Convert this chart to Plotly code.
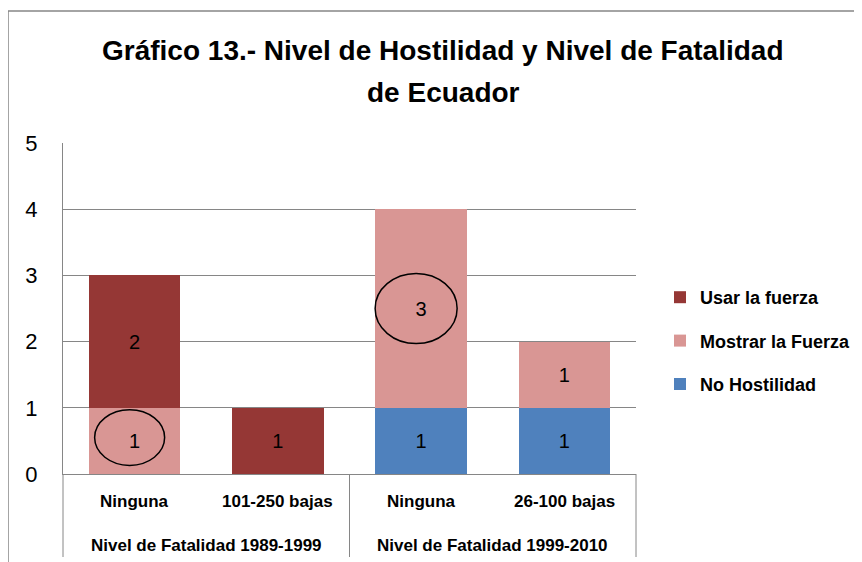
import plotly.graph_objects as go

groups = ["Nivel de Fatalidad 1989-1999", "Nivel de Fatalidad 1999-2010"]
group_of = [0, 0, 1, 1]
categories = ["Ninguna", "101-250 bajas", "Ninguna", "26-100 bajas"]
no_hostilidad = [None, None, 1, 1]
mostrar_fuerza = [1, None, 3, 1]
usar_fuerza = [2, 1, None, None]
y_ticks = [0, 1, 2, 3, 4, 5]

FONT = "Liberation Sans"
OFF = 8  # page body margin offset
W, H = 862, 562
PL, PR, PT, PB = 63 - OFF, 636 - OFF, 143 - OFF, 474 - OFF
PW, PH = PR - PL, PB - PT

def px_x(px):
    return (px - OFF - PL) / PW

def px_y(py):
    return (PB - (py - OFF)) / PH

xpos = list(range(len(categories)))
fig = go.Figure()
series = [("No Hostilidad", no_hostilidad, "#4F81BD", 3),
          ("Mostrar la Fuerza", mostrar_fuerza, "#D99694", 2),
          ("Usar la fuerza", usar_fuerza, "#953735", 1)]
for name, vals, col, rank in series:
    fig.add_trace(go.Bar(
        x=xpos, y=vals, name="<b>%s</b>" % name, marker_color=col,
        legendgroup=name, legendrank=rank,
        marker_line_width=0,
        text=[("" if v is None else str(v)) for v in vals],
        textposition="inside", insidetextanchor="middle",
        textfont=dict(color="black", size=20, family=FONT),
        constraintext="none",
    ))

n = len(categories)
stack = [no_hostilidad, mostrar_fuerza, usar_fuerza]
def stack_mid(i, level):
    base = sum((s[i] or 0) for s in stack[:level])
    return base + (stack[level][i] or 0) / 2

cat_px = PW / n
shapes = []
for i, level, wpx, hy, dx, dy in [(0, 1, 70, 0.42, -5, 0.05), (2, 1, 82, 0.53, -5, 0.0)]:
    cy = stack_mid(i, level) + dy
    cx = i + dx / cat_px
    shapes.append(dict(type="circle", xref="x", yref="y",
                       x0=cx - wpx / 2 / cat_px, x1=cx + wpx / 2 / cat_px,
                       y0=cy - hy, y1=cy + hy,
                       line=dict(color="black", width=1.5)))
GRAY = "#868686"
# outer chart border (top and left)
shapes.append(dict(type="line", xref="paper", yref="paper",
                   x0=px_x(8), x1=px_x(W + 20), y0=px_y(11), y1=px_y(11),
                   line=dict(color=GRAY, width=1.5)))
shapes.append(dict(type="line", xref="paper", yref="paper",
                   x0=px_x(8), x1=px_x(8), y0=px_y(11), y1=px_y(H + 20),
                   line=dict(color=GRAY, width=1.5)))
# category box dividers
for k in range(len(groups) + 1):
    xx = k / len(groups)
    shapes.append(dict(type="line", xref="paper", yref="paper",
                       x0=xx, x1=xx, y0=0, y1=px_y(557),
                       line=dict(color=GRAY, width=1)))

annotations = [
    dict(text="<b>Gráfico 13.- Nivel de Hostilidad y Nivel de Fatalidad</b>",
         xref="paper", yref="paper", x=px_x(443), y=px_y(50),
         xanchor="center", yanchor="middle", showarrow=False,
         font=dict(family=FONT, size=28, color="black")),
    dict(text="<b>de Ecuador</b>",
         xref="paper", yref="paper", x=px_x(443), y=px_y(92),
         xanchor="center", yanchor="middle", showarrow=False,
         font=dict(family=FONT, size=28, color="black")),
]
for i, c in enumerate(categories):
    annotations.append(dict(text="<b>%s</b>" % c, xref="x", yref="paper",
                            x=i, y=px_y(501), xanchor="center", yanchor="middle",
                            showarrow=False,
                            font=dict(family=FONT, size=17, color="black")))
for g, gname in enumerate(groups):
    members = [i for i in range(n) if group_of[i] == g]
    annotations.append(dict(text="<b>%s</b>" % gname, xref="x", yref="paper",
                            x=sum(members) / len(members), y=px_y(545),
                            xanchor="center", yanchor="middle", showarrow=False,
                            font=dict(family=FONT, size=17, color="black")))

fig.update_layout(
    width=W, height=H,
    margin=dict(l=PL, r=W - PR, t=PT, b=H - PB, autoexpand=False),
    paper_bgcolor="white", plot_bgcolor="white",
    barmode="stack", bargap=0.36,
    legend=dict(traceorder="grouped", x=px_x(660), y=px_y(341),
                xanchor="left", yanchor="middle",
                font=dict(family=FONT, size=18, color="black"),
                itemwidth=30, tracegroupgap=17, bgcolor="rgba(0,0,0,0)"),
    shapes=shapes, annotations=annotations,
    showlegend=True,
)
fig.update_yaxes(range=[0, 5], tickvals=y_ticks, showgrid=True, gridcolor=GRAY,
                 gridwidth=1, showline=True, linecolor=GRAY, linewidth=1,
                 ticks="", ticklabelstandoff=20, automargin=False,
                 tickfont=dict(family=FONT, size=22, color="black"), zeroline=False)
fig.update_xaxes(range=[-0.5, n - 0.5], showline=True, linecolor=GRAY, linewidth=1,
                 showticklabels=False, showgrid=False, zeroline=False,
                 automargin=False)
fig.write_html("out.html")
